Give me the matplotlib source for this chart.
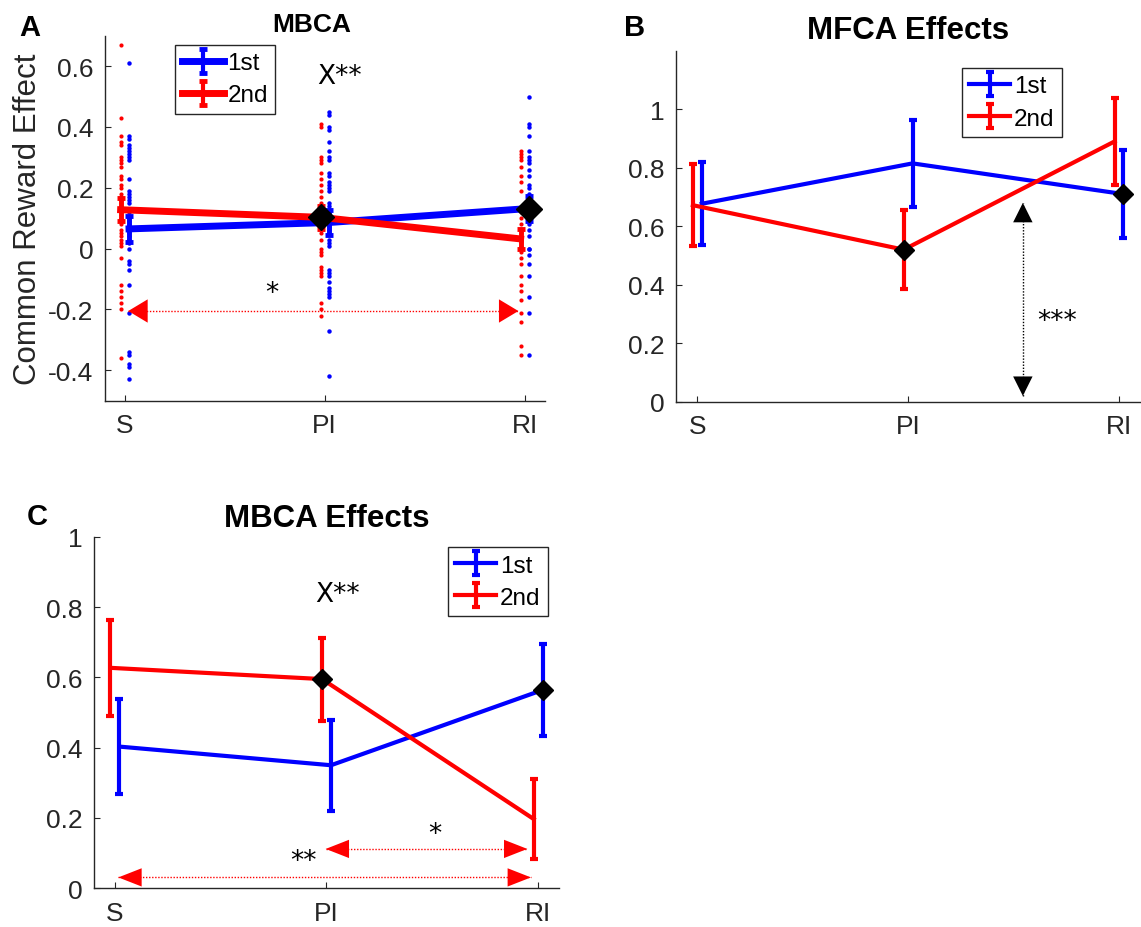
"""Three-panel figure: MBCA / MFCA common-reward effects by condition."""

import matplotlib

matplotlib.use("Agg")
import matplotlib.pyplot as plt
import numpy as np


CONDITIONS = ["S", "PI", "RI"]
SERIES = ["1st", "2nd"]

# Panel A: MBCA, group means and per-subject effects
A_MEAN_1ST = [0.065, 0.086, 0.132]
A_ERR_1ST = [0.043, 0.040, 0.040]
A_MEAN_2ND = [0.128, 0.103, 0.032]
A_ERR_2ND = [0.037, 0.037, 0.033]

A_DOTS_1ST = {
    "S": [0.61, 0.37, 0.36, 0.34, 0.33, 0.32, 0.31, 0.30, 0.29, 0.23, 0.19,
          0.18, 0.17, 0.16, 0.15, 0.13, 0.12, 0.10, 0.09, 0.08, 0.07, 0.06,
          0.05, 0.04, 0.03, 0.02, 0.00, -0.04, -0.05, -0.07, -0.12, -0.21,
          -0.34, -0.35, -0.38, -0.39, -0.43],
    "PI": [0.45, 0.44, 0.40, 0.39, 0.35, 0.32, 0.30, 0.29, 0.25, 0.24, 0.22,
           0.21, 0.20, 0.19, 0.15, 0.14, 0.12, 0.11, 0.10, 0.09, 0.08, 0.07,
           0.06, 0.05, 0.03, 0.02, 0.01, -0.07, -0.08, -0.09, -0.11, -0.13,
           -0.14, -0.15, -0.16, -0.27, -0.42],
    "RI": [0.50, 0.41, 0.40, 0.37, 0.32, 0.30, 0.29, 0.28, 0.26, 0.24, 0.21,
           0.20, 0.18, 0.17, 0.16, 0.15, 0.14, 0.13, 0.12, 0.11, 0.10, 0.09,
           0.08, 0.06, 0.04, 0.00, 0.00, -0.02, -0.05, -0.09, -0.16, -0.21,
           -0.35],
}
A_DOTS_2ND = {
    "S": [0.67, 0.43, 0.37, 0.35, 0.34, 0.30, 0.29, 0.28, 0.27, 0.24, 0.23,
          0.21, 0.20, 0.18, 0.17, 0.16, 0.15, 0.14, 0.13, 0.12, 0.11, 0.10,
          0.09, 0.08, 0.06, 0.05, 0.04, 0.03, 0.02, 0.01, -0.03, -0.12,
          -0.14, -0.16, -0.18, -0.20, -0.36],
    "PI": [0.41, 0.40, 0.30, 0.29, 0.28, 0.25, 0.23, 0.21, 0.19, 0.17, 0.15,
           0.14, 0.13, 0.12, 0.11, 0.10, 0.09, 0.08, 0.07, 0.05, 0.03, 0.00,
           -0.01, -0.02, -0.06, -0.07, -0.08, -0.09, -0.18, -0.20, -0.22],
    "RI": [0.32, 0.31, 0.30, 0.29, 0.27, 0.24, 0.22, 0.19, 0.13, 0.12, 0.10,
           0.08, 0.06, 0.05, 0.03, 0.02, 0.01, -0.01, -0.03, -0.05, -0.09,
           -0.12, -0.14, -0.17, -0.21, -0.24, -0.32, -0.35],
}

# Panel B: MFCA effects
B_MEAN_1ST = [0.677, 0.815, 0.710]
B_ERR_1ST = [0.142, 0.150, 0.150]
B_MEAN_2ND = [0.672, 0.520, 0.890]
B_ERR_2ND = [0.140, 0.135, 0.148]

# Panel C: MBCA effects
C_MEAN_1ST = [0.403, 0.350, 0.564]
C_ERR_1ST = [0.134, 0.130, 0.130]
C_MEAN_2ND = [0.627, 0.595, 0.197]
C_ERR_2ND = [0.136, 0.118, 0.115]

BLUE = "#0000FF"
RED = "#FF0000"
GREY = "#262626"
OFFSET = {"1st": 0.022, "2nd": -0.02}
NOTE_FONT = ["DejaVu Sans"]


def _style():
    plt.rcParams.update(
        {
            "font.family": ["Liberation Sans", "DejaVu Sans"],
            "font.size": 19,
            "axes.spines.top": False,
            "axes.spines.right": False,
            "axes.edgecolor": GREY,
            "axes.linewidth": 1.0,
            "xtick.direction": "in",
            "ytick.direction": "in",
            "xtick.color": GREY,
            "ytick.color": GREY,
            "xtick.labelsize": 19,
            "ytick.labelsize": 19,
            "xtick.major.size": 4,
            "ytick.major.size": 4,
            "xtick.major.pad": 9,
            "ytick.major.pad": 8,
        }
    )


def _two_series(ax, means_1st, err_1st, means_2nd, err_2nd, lw, cap, ms):
    x = np.arange(1, len(CONDITIONS) + 1)
    ax.errorbar(x + OFFSET["1st"], means_1st, yerr=err_1st, color=BLUE,
                lw=lw, elinewidth=cap, capsize=3, capthick=cap, label="1st")
    ax.errorbar(x + OFFSET["2nd"], means_2nd, yerr=err_2nd, color=RED,
                lw=lw, elinewidth=cap, capsize=3, capthick=cap, label="2nd")
    # black diamonds: 2nd at PI, 1st at RI
    ax.plot(x[1] + OFFSET["2nd"], means_2nd[1], "D", color="black", ms=ms, zorder=5)
    ax.plot(x[2] + OFFSET["1st"], means_1st[2], "D", color="black", ms=ms, zorder=5)


def _head(ax, tip, tail, color, length, width):
    ax.annotate(
        "",
        xy=tip,
        xytext=tail,
        arrowprops=dict(arrowstyle=f"-|>,head_length={length},head_width={width}",
                        lw=0, color=color, shrinkA=0, shrinkB=0,
                        mutation_scale=14),
    )


def _h_arrow(ax, x0, x1, y, length=1.2, width=0.47):
    ax.plot([x0, x1], [y, y], ls=(0, (1, 1.2)), lw=1.0, color=RED)
    _head(ax, (x0, y), (x1, y), RED, length, width)
    _head(ax, (x1, y), (x0, y), RED, length, width)


def _legend(ax, anchor, handle_lw=None):
    leg = ax.legend(loc="upper left", bbox_to_anchor=anchor, fontsize=17.5,
                    frameon=True, fancybox=False, framealpha=1, edgecolor=GREY,
                    borderpad=0.3, handlelength=1.7, handletextpad=0.15,
                    labelspacing=0.42, borderaxespad=0)
    if handle_lw is not None:
        for h in leg.legend_handles:
            h.set_linewidth(handle_lw)
    return leg


def _xaxis(ax):
    ax.set_xlim(0.9, 3.1)
    ax.set_xticks([1, 2, 3])
    ax.set_xticklabels(CONDITIONS)


def panel_a(ax):
    x = np.arange(1, len(CONDITIONS) + 1)
    for i, cond in enumerate(CONDITIONS):
        d2 = A_DOTS_2ND[cond]
        d1 = A_DOTS_1ST[cond]
        ax.plot(np.full(len(d2), x[i] + OFFSET["2nd"]), d2, "o", color=RED,
                ms=3.0, mew=0, zorder=2)
        ax.plot(np.full(len(d1), x[i] + OFFSET["1st"]), d1, "o", color=BLUE,
                ms=3.2, mew=0, zorder=2)
    _two_series(ax, A_MEAN_1ST, A_ERR_1ST, A_MEAN_2ND, A_ERR_2ND,
                lw=5, cap=3.5, ms=13)
    _xaxis(ax)
    ax.set_ylim(-0.5, 0.7)
    ax.set_yticks([-0.4, -0.2, 0, 0.2, 0.4, 0.6])
    ax.set_yticklabels(["-0.4", "-0.2", "0", "0.2", "0.4", "0.6"])
    ax.set_ylabel("Common Reward Effect", fontsize=22.5, color=GREY)
    ax.yaxis.set_label_coords(-0.14, 0.5)
    ax.set_title("MBCA", fontsize=19, fontweight="bold", x=0.47, pad=3)
    _h_arrow(ax, 1.018, 2.969, -0.205, length=1.0, width=0.6)
    ax.text(1.737, -0.19, "*", ha="center", va="bottom", fontsize=19,
            family=NOTE_FONT)
    ax.text(2.074, 0.568, "X**", ha="center", va="center", fontsize=19,
            family=NOTE_FONT)
    _legend(ax, (0.16, 0.975), handle_lw=3)


def panel_b(ax):
    _two_series(ax, B_MEAN_1ST, B_ERR_1ST, B_MEAN_2ND, B_ERR_2ND,
                lw=3, cap=3, ms=10)
    _xaxis(ax)
    ax.set_ylim(0, 1.2)
    ax.set_yticks([0, 0.2, 0.4, 0.6, 0.8, 1.0])
    ax.set_yticklabels(["0", "0.2", "0.4", "0.6", "0.8", "1"])
    ax.set_title("MFCA Effects", fontsize=22.5, fontweight="bold", pad=9)
    ax.plot([2.545, 2.545], [0.02, 0.68], ls=(0, (1, 1.2)), lw=1.0,
            color="black")
    _head(ax, (2.545, 0.68), (2.545, 0.02), "black", 1.0, 0.5)
    _head(ax, (2.545, 0.02), (2.545, 0.68), "black", 1.0, 0.5)
    ax.text(2.709, 0.276, "***", ha="center", va="center", fontsize=19,
            family=NOTE_FONT)
    _legend(ax, (0.616, 0.951))


def panel_c(ax):
    _two_series(ax, C_MEAN_1ST, C_ERR_1ST, C_MEAN_2ND, C_ERR_2ND,
                lw=3, cap=3, ms=10)
    _xaxis(ax)
    ax.set_ylim(0, 1)
    ax.set_yticks([0, 0.2, 0.4, 0.6, 0.8, 1.0])
    ax.set_yticklabels(["0", "0.2", "0.4", "0.6", "0.8", "1"])
    ax.set_title("MBCA Effects", fontsize=22.5, fontweight="bold", pad=8)
    _h_arrow(ax, 1.997, 2.95, 0.112)
    _h_arrow(ax, 1.017, 2.967, 0.031)
    ax.text(2.513, 0.118, "*", ha="center", va="bottom", fontsize=19,
            family=NOTE_FONT)
    ax.text(1.89, 0.04, "**", ha="center", va="bottom", fontsize=19,
            family=NOTE_FONT)
    ax.text(2.053, 0.837, "X**", ha="center", va="center", fontsize=19,
            family=NOTE_FONT)
    _legend(ax, (0.761, 0.97))


def main():
    _style()
    fig = plt.figure(figsize=(11.41, 9.28), dpi=100)
    ax_a = fig.add_axes([0.0917, 0.5671, 0.3856, 0.3933])
    ax_b = fig.add_axes([0.5925, 0.566, 0.4065, 0.3782])
    ax_c = fig.add_axes([0.082, 0.0417, 0.408, 0.3789])

    panel_a(ax_a)
    panel_b(ax_b)
    panel_c(ax_c)

    fig.text(30 / 1141, 1 - 28 / 928, "A", fontsize=21, fontweight="bold",
             ha="center", va="center")
    fig.text(635 / 1141, 1 - 28 / 928, "B", fontsize=21, fontweight="bold",
             ha="center", va="center")
    fig.text(37 / 1141, 1 - 517 / 928, "C", fontsize=21, fontweight="bold",
             ha="center", va="center")

    fig.savefig("out.png", dpi=100, facecolor="white")
    plt.close(fig)


if __name__ == "__main__":
    main()
